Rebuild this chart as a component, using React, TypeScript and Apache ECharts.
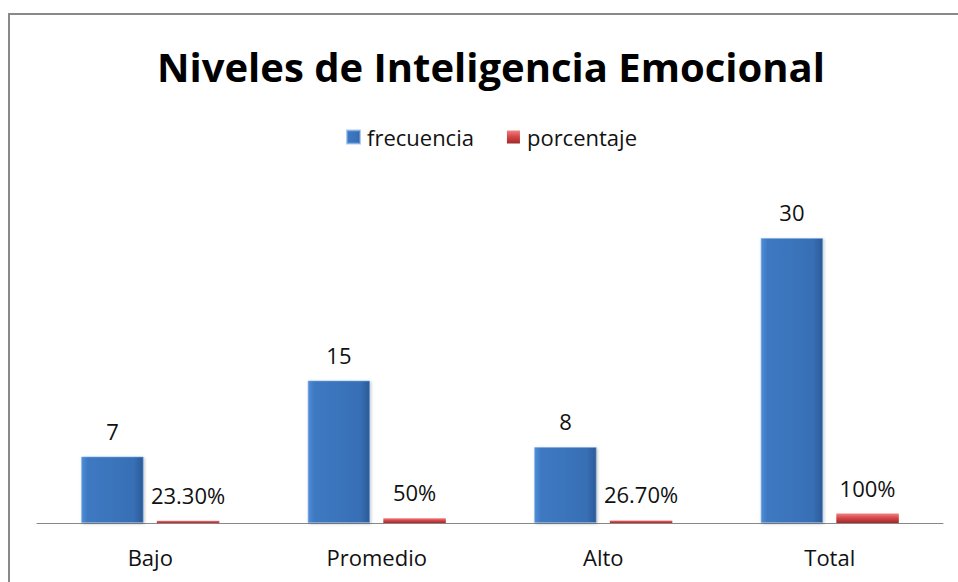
import React, { useEffect, useRef } from "react";
import * as echarts from "echarts";

const categories = ["Bajo", "Promedio", "Alto", "Total"];
const frecuencia = [7, 15, 8, 30];
const porcentaje = [0.233, 0.5, 0.267, 1];
const porcentajeLabels = ["23.30%", "50%", "26.70%", "100%"];

const FONT = "'Open Sans', 'Noto Sans', sans-serif";

export default function App() {
  const ref = useRef<HTMLDivElement>(null);
  useEffect(() => {
    document.body.style.margin = "0";
    const chart = echarts.init(ref.current!, null, { renderer: "svg" });
    chart.setOption({
      animation: false,
      backgroundColor: "#ffffff",
      textStyle: { fontFamily: FONT },
      title: {
        text: "Niveles de Inteligencia Emocional",
        left: 152,
        top: 41,
        textStyle: { fontFamily: FONT, fontSize: 40, fontWeight: "bold", color: "#000" },
      },
      legend: {
        top: 121,
        left: 341,
        itemWidth: 13,
        itemHeight: 13,
        itemGap: 33,
        icon: "rect",
        textStyle: { fontFamily: FONT, fontSize: 22, color: "#111", padding: [0, 0, 0, 2] },
        data: ["frecuencia", "porcentaje"],
      },
      graphic: [
        {
          type: "rect",
          shape: { x: 9, y: 14, width: 1000, height: 1000 },
          style: { fill: "none", stroke: "#898989", lineWidth: 2 },
          silent: true,
        },
      ],
      grid: { left: 37, right: 15, top: 190.5, bottom: 59 },
      xAxis: {
        type: "category",
        data: categories,
        axisLine: { lineStyle: { color: "#888888", width: 1 } },
        axisTick: { show: false },
        axisLabel: { fontFamily: FONT, fontSize: 22, color: "#111", margin: 23 },
      },
      yAxis: { type: "value", min: 0, max: 35, show: false, splitLine: { show: false } },
      series: [
        {
          name: "frecuencia",
          type: "bar",
          data: frecuencia,
          barGap: "21%",
          barCategoryGap: "39%",
          itemStyle: {
            color: new echarts.graphic.LinearGradient(0, 0, 1, 0, [
              { offset: 0, color: "#4f8ed6" },
              { offset: 0.1, color: "#3d79c2" },
              { offset: 0.85, color: "#386fb5" },
              { offset: 1, color: "#2b5a96" },
            ]),
            borderColor: "rgba(120,170,230,0.6)",
            borderWidth: 1,
            shadowColor: "rgba(0,0,0,0.25)",
            shadowBlur: 3,
            shadowOffsetX: 1,
            shadowOffsetY: 1,
          },
          label: {
            show: true,
            position: "top",
            distance: 15,
            fontFamily: FONT,
            fontSize: 22,
            color: "#111",
          },
        },
        {
          name: "porcentaje",
          type: "bar",
          data: porcentaje,
          itemStyle: {
            color: new echarts.graphic.LinearGradient(0, 0, 0, 1, [
              { offset: 0, color: "#f08280" },
              { offset: 0.45, color: "#d8484a" },
              { offset: 1, color: "#a02a2a" },
            ]),
          },
          label: {
            show: true,
            position: "top",
            distance: 15,
            fontFamily: FONT,
            fontSize: 22,
            color: "#111",
            formatter: (p: any) => porcentajeLabels[p.dataIndex],
          },
        },
      ],
    });
    return () => chart.dispose();
  }, []);
  return (
    <div
      ref={ref}
      style={{ position: "absolute", left: 0, top: 0, width: 958, height: 582 }}
    />
  );
}
